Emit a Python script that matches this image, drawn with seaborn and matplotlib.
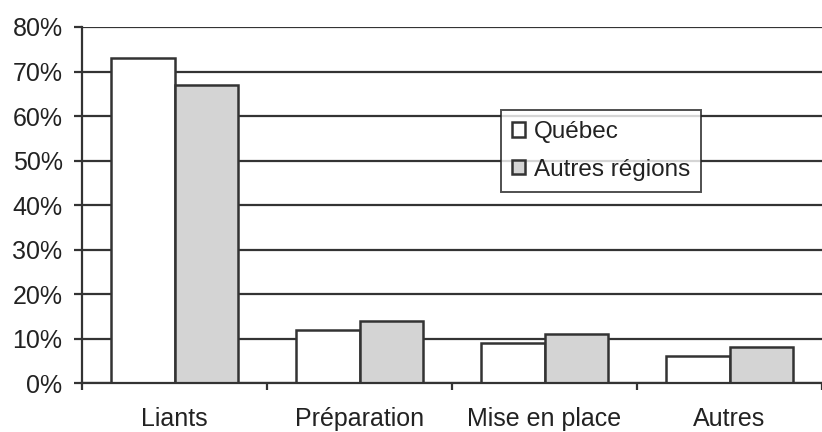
import pandas as pd
import matplotlib.pyplot as plt
import seaborn as sns
from matplotlib.ticker import FixedLocator, PercentFormatter

# données
categories = ["Liants", "Préparation", "Mise en place", "Autres"]
quebec = [73, 12, 9, 6]
autres_regions = [67, 14, 11, 8]
series = ["Québec", "Autres régions"]

df = pd.DataFrame({
    "categorie": categories * 2,
    "valeur": quebec + autres_regions,
    "region": [series[0]] * len(categories) + [series[1]] * len(categories),
})

sns.set_style("white")
plt.rcParams["font.family"] = ["Liberation Sans", "DejaVu Sans"]

fig = plt.figure(figsize=(8.22, 4.32), dpi=100)
ax = fig.add_axes([0.0998, 0.1134, 0.9002, 0.8241])

sns.barplot(data=df, x="categorie", y="valeur", hue="region",
            palette=["white", "#d4d4d4"], edgecolor="#333333", linewidth=1.8,
            width=0.69, gap=0, ax=ax)

ax.set_ylim(0, 80)
ax.set_xlim(-0.5, len(categories) - 0.5)
ax.set_yticks(range(0, 81, 10))
ax.yaxis.set_major_formatter(PercentFormatter(decimals=0))
ax.set_axisbelow(True)
ax.grid(axis="y", color="#333333", linewidth=1.6)
ax.grid(axis="x", visible=False)

for s in ["top", "right"]:
    ax.spines[s].set_visible(False)
for s in ["left", "bottom"]:
    ax.spines[s].set_color("#333333")
    ax.spines[s].set_linewidth(1.6)

ax.tick_params(axis="y", which="major", left=True, length=6, width=1.6,
               color="#333333", labelsize=18, labelcolor="#222222", pad=8)
ax.tick_params(axis="x", which="major", length=0, labelsize=18,
               labelcolor="#222222", pad=17)
ax.xaxis.set_minor_locator(FixedLocator([i - 0.5 for i in range(len(categories) + 1)]))
ax.tick_params(axis="x", which="minor", bottom=True, length=5, width=1.6,
               color="#333333")

ax.set_xlabel("")
ax.set_ylabel("")

leg = ax.legend(loc="upper left", bbox_to_anchor=(0.566, 0.767), fontsize=17.5,
                frameon=True, fancybox=False, edgecolor="#222222",
                handlelength=0.55, handleheight=0.55, handletextpad=0.35,
                borderpad=0.45, labelspacing=0.65, borderaxespad=0)
leg.get_frame().set_linewidth(1.4)
for t in leg.get_texts():
    t.set_color("#222222")

fig.savefig("out.png", dpi=100)
